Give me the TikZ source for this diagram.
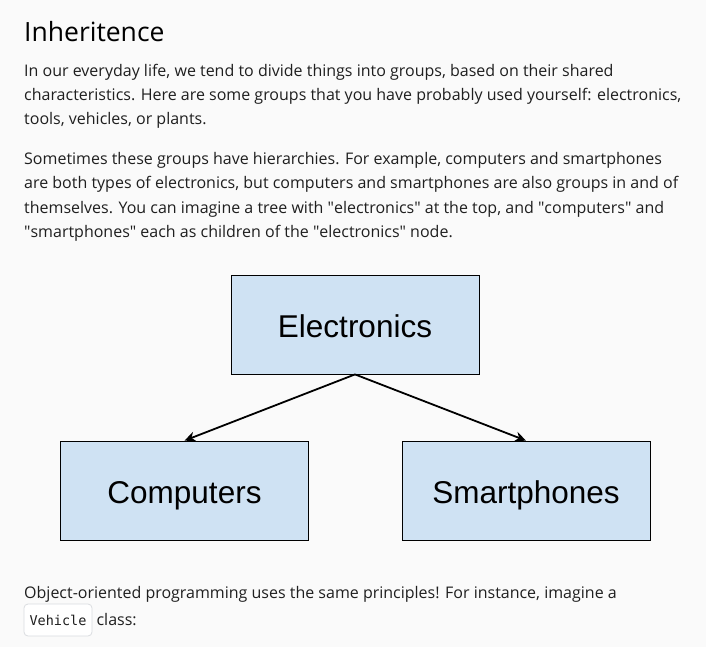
\documentclass[tikz,border=0pt]{standalone}
\usepackage{fontspec}
\setmainfont{Open Sans}
\newfontfamily\boxfont{Liberation Sans}
\newfontfamily\codefont{DejaVu Sans Mono}
\usetikzlibrary{arrows.meta,positioning}
\definecolor{pagebg}{HTML}{FAFAFA}
\definecolor{boxfill}{HTML}{CFE2F3}
\definecolor{inktext}{HTML}{1F1F1F}
\definecolor{codeborder}{HTML}{DADCE0}
\newcommand{\qt}{\textquotedbl}
\begin{document}
\begin{tikzpicture}[x=1pt,y=-1pt,
    line/.style={anchor=base west,inner sep=0pt,text=inktext,font=\fontsize{16}{24}\selectfont},
    group/.style={draw=black,fill=boxfill,line width=0.8pt,minimum width=248pt,minimum height=99pt,
                  text height=25pt,text depth=0pt,font=\boxfont\fontsize{31.5}{36}\selectfont},
    link/.style={-{Stealth[length=11pt,width=10pt]},line width=1.8pt}]
        \fill[pagebg] (0,0) rectangle (706,647);
        \useasboundingbox (0,0) rectangle (706,647);

        \node[line,font=\fontsize{26.5}{30}\selectfont,text=black] (title) at (24,42) {Inheritence};

        \node[line] (p1a) at (24,77) {In our everyday life, we tend to divide things into groups, based on their shared};
        \node[line] (p1b) at (24,101) {characteristics. Here are some groups that you have probably used yourself: electronics,};
        \node[line] (p1c) at (24,125) {tools, vehicles, or plants.};

        \node[line] (p2a) at (24,165) {Sometimes these groups have hierarchies. For example, computers and smartphones};
        \node[line] (p2b) at (24,189) {are both types of electronics, but computers and smartphones are also groups in and of};
        \node[line] (p2c) at (24,213) {themselves. You can imagine a tree with \qt electronics\qt{} at the top, and \qt computers\qt{} and};
        \node[line] (p2d) at (24,237) {\qt smartphones\qt{} each as children of the \qt electronics\qt{} node.};

        \node[group] (elec) at (355,324.5) {Electronics};
        \node[group] (comp) at (184.5,490.5) {Computers};
        \node[group] (phone) at (526,490.5) {Smartphones};
        \draw[link] (elec.south) -- (comp.north);
        \draw[link] (elec.south) -- (phone.north);

        \node[line] (p3a) at (24,598) {Object-oriented programming uses the same principles! For instance, imagine a};
        \node[draw=codeborder,fill=white,rounded corners=4pt,line width=0.8pt,minimum width=68pt,minimum height=32pt,
              inner sep=0pt,font=\codefont\fontsize{13.5}{16}\selectfont,text=inktext] (code) at (58,620) {Vehicle};
        \node[line] (p3b) at ([xshift=4pt]code.base east) {class:};
\end{tikzpicture}
\end{document}
